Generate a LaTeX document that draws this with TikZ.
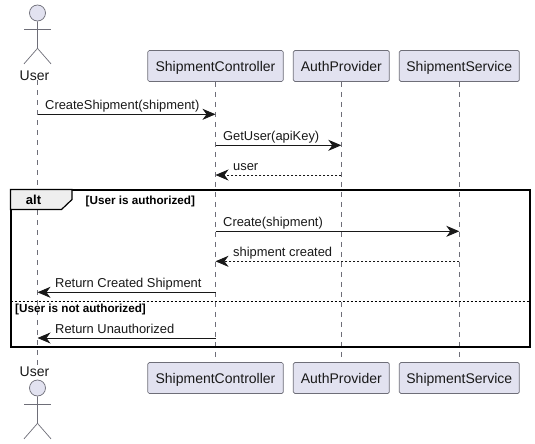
\documentclass[tikz,border=0pt]{standalone}
\usepackage{fontspec}
\setmainfont{Liberation Sans}
\usepackage{xcolor}
\usetikzlibrary{arrows.meta}
\definecolor{partfill}{HTML}{E2E2F0}
\definecolor{partline}{HTML}{6E6E78}
\definecolor{msgline}{HTML}{181818}
\definecolor{tabfill}{HTML}{EEEEEE}
\tikzset{
  partbox/.style={draw=partline,fill=partfill,rounded corners=1.5pt,line width=0.7pt,minimum height=31pt,inner sep=0pt,text height=11pt,text depth=0pt,font=\fontsize{14}{16}\selectfont,text=black!90},
  actorhead/.style={draw=partline,fill=partfill,circle,minimum size=16pt,inner sep=0pt,line width=0.7pt},
  actorlimb/.style={draw=partline,line width=0.7pt},
  actorname/.style={inner sep=0pt,text height=10pt,text depth=0pt,font=\fontsize{14}{16}\selectfont,text=black!90},
  lifeline/.style={draw=partline,line width=0.6pt,dash pattern=on 5pt off 5pt},
  callmsg/.style={draw=msgline,line width=0.9pt,-{Stealth[length=13pt,width=11pt,inset=4pt]}},
  replymsg/.style={callmsg,dash pattern=on 2pt off 2pt},
  msglabel/.style={anchor=base west,inner sep=0pt,font=\fontsize{12.9}{15}\selectfont,text=black!90},
  guardlabel/.style={anchor=base west,inner sep=0pt,font=\fontsize{11.7}{13}\selectfont\bfseries},
}
% #1 name, #2 x, #3 y of head
\newcommand\stickman[3]{
  \node[actorhead] (#1) at (#2,#3) {};
  \draw[actorlimb] (#1.south) -- ++(0,27)
    coordinate (#1hip) -- ++(-13.5,15.5);
  \draw[actorlimb] (#1hip) -- ++(13.5,15.5);
  \draw[actorlimb] (#2-13.5,#3+16) -- (#2+13.5,#3+16);
}
% #1 style, #2 from, #3 to, #4 y, #5 label name, #6 label x, #7 text
\newcommand\seqmsg[7]{
  \coordinate (#5a) at (#2 |- 0,#4);
  \coordinate (#5b) at (#3 |- 0,#4);
  \draw[#1] (#5a) -- (#5b);
  \node[msglabel] (#5) at (#6,#4-4.5) {#7};
}
\begin{document}
\begin{tikzpicture}[x=1pt,y=-1pt]
  \useasboundingbox (0,0) rectangle (535,444);
  \fill[white] (0,0) rectangle (535,444);

  % top row
  \stickman{usertop}{37.5}{13}
  \node[actorname] (usertext) at (34.5,75) {User};
  \node[partbox,minimum width=135.5pt] (ctrltop) at (215.5,66) {ShipmentController};
  \node[partbox,minimum width=96pt] (authtop) at (341.3,66) {AuthProvider};
  \node[partbox,minimum width=120pt] (servtop) at (459.3,66) {ShipmentService};

  % bottom row
  \node[actorname] (userbottext) at (34.5,371.7) {User};
  \stickman{userbot}{37.5}{388}
  \node[partbox,minimum width=135.5pt] (ctrlbot) at (215.5,378) {ShipmentController};
  \node[partbox,minimum width=96pt] (authbot) at (341.3,378) {AuthProvider};
  \node[partbox,minimum width=120pt] (servbot) at (459.3,378) {ShipmentService};

  % lifelines
  \draw[lifeline] (usertop |- usertext.south) -- (userbot |- userbottext.north);
  \draw[lifeline] (ctrltop.south) -- (ctrlbot.north);
  \draw[lifeline] (authtop.south) -- (authbot.north);
  \draw[lifeline] (servtop.south) -- (servbot.north);

  % alt frame
  \draw[black,line width=2pt] (10.5,189.5) rectangle (529.5,346.5);
  \draw[black,line width=1.2pt,fill=tabfill] (10.5,189.5) -- (72,189.5) -- (72,199.5)
    -- (61.5,209.5) -- (10.5,209.5) -- cycle;
  \node[inner sep=0pt,font=\fontsize{13}{15}\selectfont\bfseries] (alttext) at (33.5,200) {alt};
  \node[guardlabel] (guardok) at (85.5,204) {[User is authorized]};
  \draw[black,line width=0.7pt,dash pattern=on 2pt off 2pt] (10.5,301) -- (529.5,301);
  \node[guardlabel] (guardno) at (15,312) {[User is not authorized]};

  % messages
  \seqmsg{callmsg}{usertop}{ctrltop}{114.3}{createmsg}{45}{CreateShipment(shipment)}
  \seqmsg{callmsg}{ctrltop}{authtop}{145.3}{getusermsg}{223}{GetUser(apiKey)}
  \seqmsg{replymsg}{authtop}{ctrltop}{175}{usermsg}{233}{user}
  \seqmsg{callmsg}{ctrltop}{servtop}{231.3}{createsvc}{223}{Create(shipment)}
  \seqmsg{replymsg}{servtop}{ctrltop}{261.3}{createdmsg}{233}{shipment created}
  \seqmsg{callmsg}{ctrltop}{usertop}{292.3}{returnmsg}{55}{Return Created Shipment}
  \seqmsg{callmsg}{ctrltop}{usertop}{338}{unauthmsg}{55}{Return Unauthorized}
\end{tikzpicture}
\end{document}
